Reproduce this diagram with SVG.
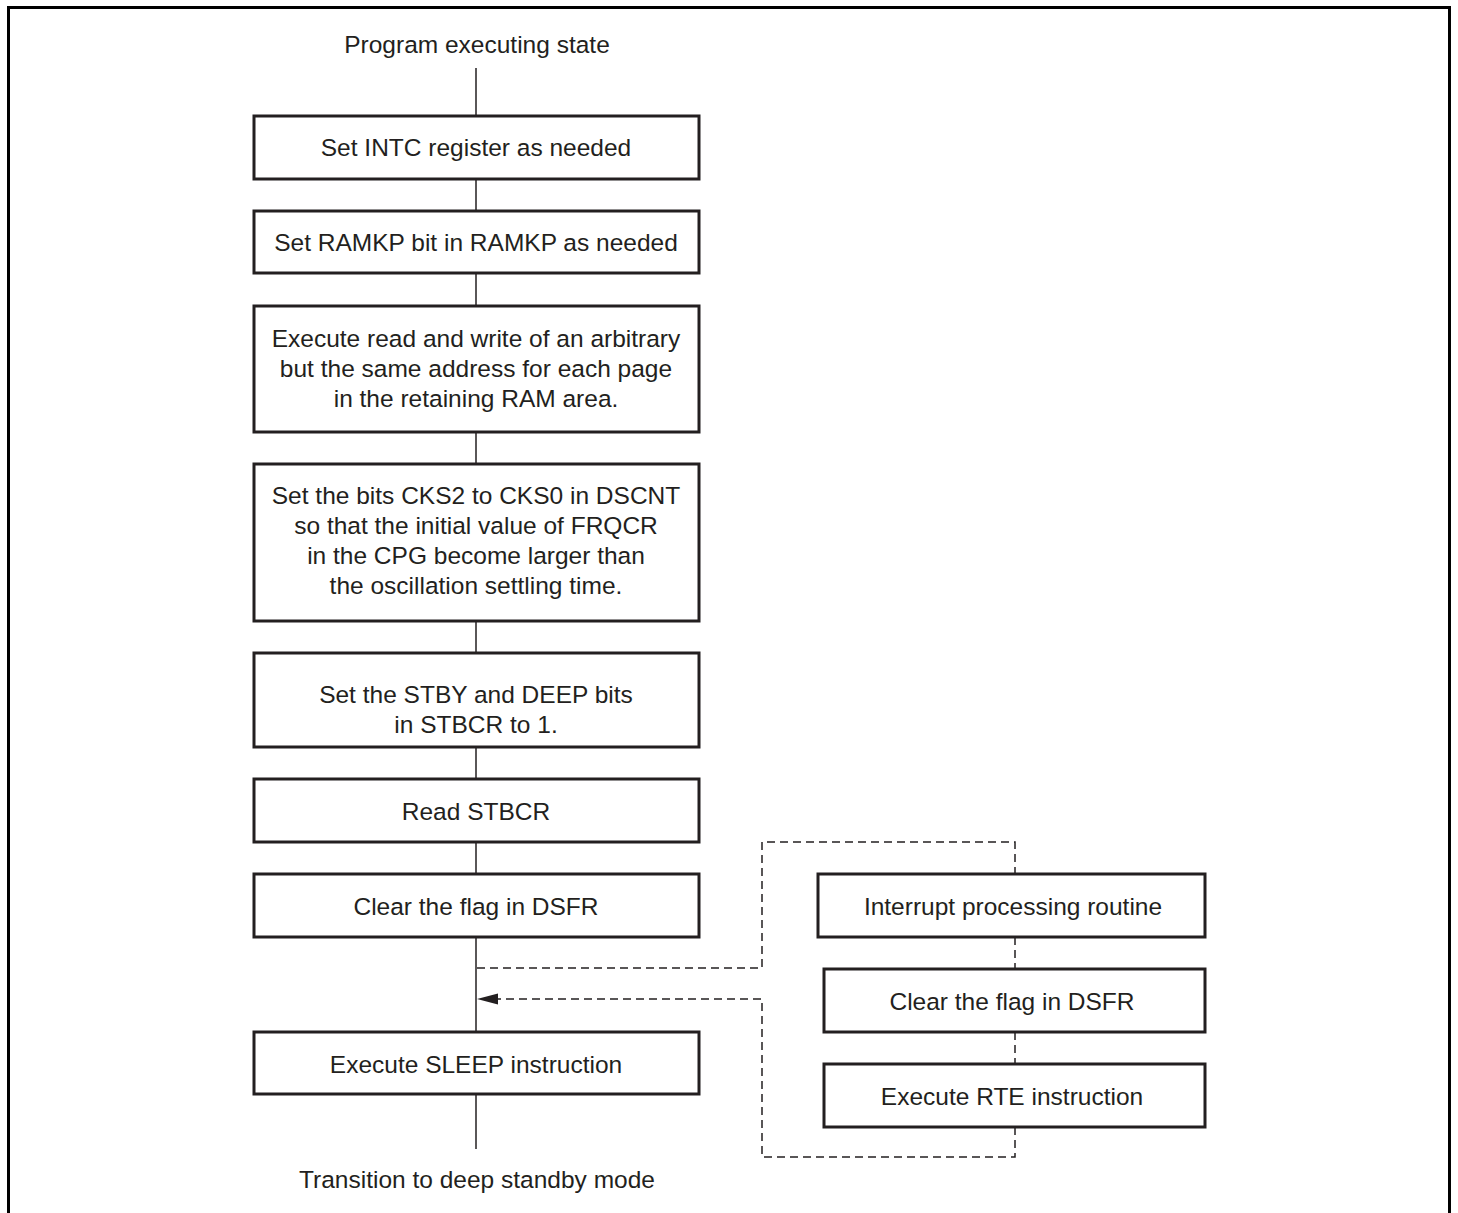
<svg xmlns="http://www.w3.org/2000/svg" width="1458" height="1213" viewBox="0 0 1458 1213">
<style>
.box{fill:#fff;stroke:#231f20;stroke-width:3}
.t{font-family:"Liberation Sans",Arial,sans-serif;font-size:24.5px;fill:#231f20;text-anchor:middle}
.ln{stroke:#231f20;stroke-width:1.5;fill:none}
.dl{stroke:#231f20;stroke-width:1.5;fill:none;stroke-dasharray:8 5}
</style>
<rect x="8.5" y="7.5" width="1441" height="1230" fill="#fff" stroke="#000" stroke-width="3"/>
<text class="t" x="477" y="53">Program executing state</text>
<text class="t" x="477" y="1188">Transition to deep standby mode</text>
<g id="connectors">
<line class="ln" x1="476" y1="68" x2="476" y2="115"/>
<line class="ln" x1="476" y1="179" x2="476" y2="210"/>
<line class="ln" x1="476" y1="273" x2="476" y2="305"/>
<line class="ln" x1="476" y1="432" x2="476" y2="463"/>
<line class="ln" x1="476" y1="621" x2="476" y2="652"/>
<line class="ln" x1="476" y1="747" x2="476" y2="778"/>
<line class="ln" x1="476" y1="842" x2="476" y2="873"/>
<line class="ln" x1="476" y1="937" x2="476" y2="1031"/>
<line class="ln" x1="476" y1="1094" x2="476" y2="1149"/>
<path class="dl" d="M477,968 H762 V842 H1015 V873"/>
<line class="dl" x1="1015" y1="937" x2="1015" y2="968"/>
<line class="dl" x1="1015" y1="1032" x2="1015" y2="1063"/>
<path class="dl" d="M1015,1127 V1157 H762 V999 H498"/>
<path d="M477,999 L498,993.5 L498,1004.5 Z" fill="#231f20"/>
</g>
<g id="n1"><rect class="box" x="254" y="116" width="445" height="63"/><text class="t" x="476" y="156">Set INTC register as needed</text></g>
<g id="n2"><rect class="box" x="254" y="211" width="445" height="62"/><text class="t" x="476" y="251">Set RAMKP bit in RAMKP as needed</text></g>
<g id="n3"><rect class="box" x="254" y="306" width="445" height="126"/>
<text class="t" x="476" y="347">Execute read and write of an arbitrary</text>
<text class="t" x="476" y="377">but the same address for each page</text>
<text class="t" x="476" y="407">in the retaining RAM area.</text></g>
<g id="n4"><rect class="box" x="254" y="464" width="445" height="157"/>
<text class="t" x="476" y="504">Set the bits CKS2 to CKS0 in DSCNT</text>
<text class="t" x="476" y="534">so that the initial value of FRQCR</text>
<text class="t" x="476" y="564">in the CPG become larger than</text>
<text class="t" x="476" y="594">the oscillation settling time.</text></g>
<g id="n5"><rect class="box" x="254" y="653" width="445" height="94"/>
<text class="t" x="476" y="703">Set the STBY and DEEP bits</text>
<text class="t" x="476" y="733">in STBCR to 1.</text></g>
<g id="n6"><rect class="box" x="254" y="779" width="445" height="63"/><text class="t" x="476" y="820">Read STBCR</text></g>
<g id="n7"><rect class="box" x="254" y="874" width="445" height="63"/><text class="t" x="476" y="915">Clear the flag in DSFR</text></g>
<g id="n8"><rect class="box" x="254" y="1032" width="445" height="62"/><text class="t" x="476" y="1073">Execute SLEEP instruction</text></g>
<g id="r1"><rect class="box" x="818" y="874" width="387" height="63"/><text class="t" x="1013" y="915">Interrupt processing routine</text></g>
<g id="r2"><rect class="box" x="824" y="969" width="381" height="63"/><text class="t" x="1012" y="1010">Clear the flag in DSFR</text></g>
<g id="r3"><rect class="box" x="824" y="1064" width="381" height="63"/><text class="t" x="1012" y="1105">Execute RTE instruction</text></g>
</svg>
